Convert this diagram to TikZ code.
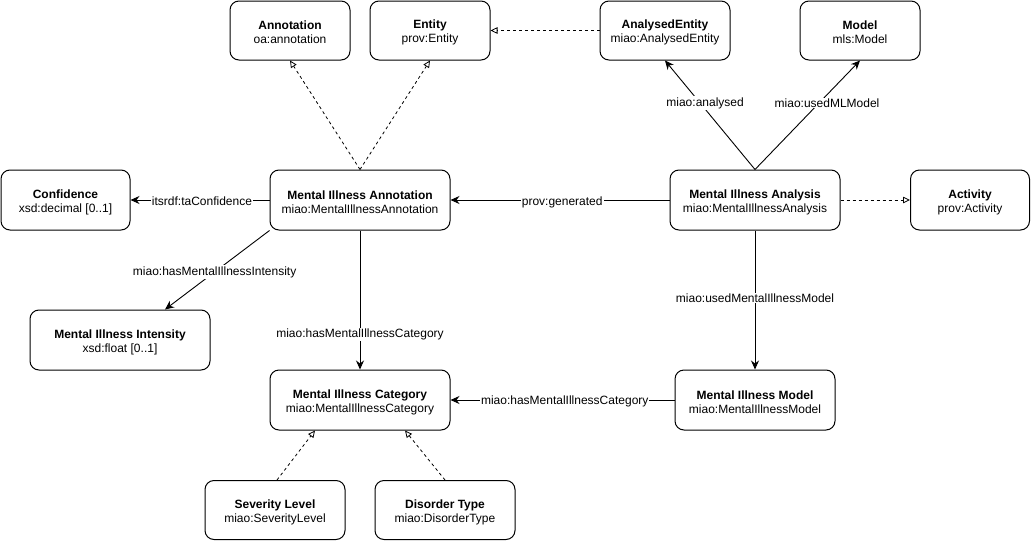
\documentclass[tikz,border=0pt]{standalone}
\usepackage{fontspec}
\setmainfont{Liberation Sans}
\usetikzlibrary{arrows.meta}

% class title line, with a little extra head room
\newcommand{\clstitle}[1]{\rule{0pt}{13pt}\textbf{#1}}

\begin{document}
\begin{tikzpicture}[
  x=1pt, y=-1pt,
  every node/.style={font=\fontsize{12pt}{14pt}\selectfont},
  cls/.style={draw, line width=1pt, rounded corners=9pt, align=center,
              minimum height=60pt, inner sep=0pt},
  rel/.style={line width=0.9pt, -{Stealth[length=9pt,width=8pt,inset=3pt]}},
  sub/.style={line width=0.8pt, dash pattern=on 3pt off 3pt,
              -{Triangle[open,length=7pt,width=6.5pt]}},
  lbl/.style={fill=white, inner sep=1pt}
]
\useasboundingbox (0,0) rectangle (1031,541);

% classes
\node[cls, minimum width=120pt, minimum height=59pt] (ann)   at (290,30.5) {\clstitle{Annotation}\\oa:annotation};
\node[cls, minimum width=120pt, minimum height=59pt] (ent)   at (430,30.5) {\clstitle{Entity}\\prov:Entity};
\node[cls, minimum width=130pt, minimum height=59pt] (aent)  at (665,30.5) {\clstitle{AnalysedEntity}\\miao:AnalysedEntity};
\node[cls, minimum width=120pt, minimum height=59pt] (model) at (860,30.5) {\clstitle{Model}\\mls:Model};

\node[cls, minimum width=129pt] (conf) at (65.5,200) {\clstitle{Confidence}\\xsd:decimal [0..1]};
\node[cls, minimum width=180pt] (mia)  at (360,200)  {\clstitle{Mental Illness Annotation}\\miao:MentalIllnessAnnotation};
\node[cls, minimum width=170pt] (mian) at (755,200)  {\clstitle{Mental Illness Analysis}\\miao:MentalIllnessAnalysis};
\node[cls, minimum width=119pt] (act)  at (970,200)  {\clstitle{Activity}\\prov:Activity};

\node[cls, minimum width=180pt] (inten) at (120,340) {\clstitle{Mental Illness Intensity}\\xsd:float [0..1]};
\node[cls, minimum width=180pt] (cat)   at (360,400) {\clstitle{Mental Illness Category}\\miao:MentalIllnessCategory};
\node[cls, minimum width=160pt] (mod)   at (755,400) {\clstitle{Mental Illness Model}\\miao:MentalIllnessModel};

\node[cls, minimum width=140pt, minimum height=59pt] (sev) at (275,510) {\clstitle{Severity Level}\\miao:SeverityLevel};
\node[cls, minimum width=140pt, minimum height=59pt] (dis) at (445,510) {\clstitle{Disorder Type}\\miao:DisorderType};

% subclass relations
\draw[sub] (mia.north) -- (ann.south);
\draw[sub] (mia.north) -- (ent.south);
\draw[sub] (aent.west) -- (ent.east);
\draw[sub] (mian.east) -- (act.west);
\draw[sub] ([xshift=2pt]sev.north) -- ([xshift=-45pt]cat.south);
\draw[sub] (dis.north) -- ([xshift=45pt]cat.south);

% object properties
\draw[rel] (mian.north) -- (aent.south)
  node[lbl, pos=0.61, xshift=5pt] {miao:analysed};
\draw[rel] (mian.north) -- (model.south)
  node[lbl, pos=0.61, xshift=8pt] {miao:usedMLModel};
\draw[rel] (mian.west) -- (mia.east)
  node[lbl, pos=0.49, yshift=-2pt] {prov:generated};
\draw[rel] (mia.west) -- (conf.east)
  node[lbl, pos=0.486, yshift=-1pt] {itsrdf:taConfidence};
\draw[rel] (mia.south west) -- ([xshift=45pt]inten.north)
  node[lbl, pos=0.525] {miao:hasMentalIllnessIntensity};
\draw[rel] (mia.south) -- (cat.north)
  node[lbl, pos=0.75] {miao:hasMentalIllnessCategory};
\draw[rel] (mian.south) -- (mod.north)
  node[lbl, pos=0.486] {miao:usedMentalIllnessModel};
\draw[rel] (mod.west) -- (cat.east)
  node[lbl, pos=0.49, yshift=-1pt] {miao:hasMentalIllnessCategory};
\end{tikzpicture}
\end{document}
